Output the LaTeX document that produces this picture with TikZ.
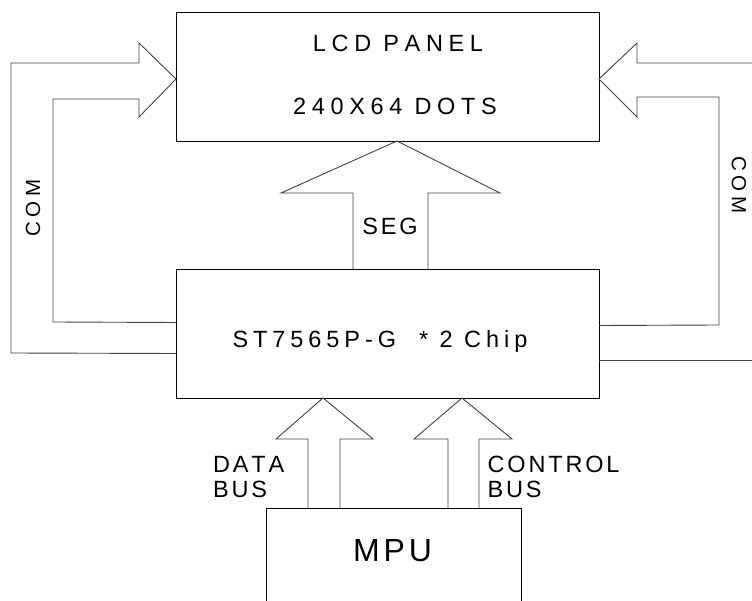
\documentclass[tikz,border=0pt]{standalone}
\usepackage{fontspec}
\setmainfont{Liberation Sans}[LetterSpace=12,Kerning=Off]
\newfontfamily\wideA{Liberation Sans}[LetterSpace=24,Kerning=Off]
\newfontfamily\wideB{Liberation Sans}[LetterSpace=21,Kerning=Off]
\newfontfamily\comfont{Liberation Sans}[LetterSpace=21,Kerning=Off]
\begin{document}
\begin{tikzpicture}[x=1pt,y=-1pt,
  box/.style={draw=black, line width=0.9pt, inner sep=0pt, outer sep=0pt, anchor=north west},
  bus/.style={draw=black!75, line width=0.9pt, line join=miter},
  txt/.style={inner sep=0pt, font=\fontsize{23.5}{28}\selectfont},
  widetxt/.style={inner sep=0pt, font=\wideA\fontsize{23.5}{28}\selectfont},
  chiptxt/.style={inner sep=0pt, font=\wideB\fontsize{23.5}{28}\selectfont},
  bigtxt/.style={inner sep=0pt, font=\fontsize{32}{38}\selectfont},
  comtxt/.style={inner sep=0pt, font=\comfont\fontsize{20.5}{24}\selectfont}]
\useasboundingbox (0,0) rectangle (752,601);
\clip (0,0) rectangle (752,601);
% boxes
\node[box, minimum width=423pt, minimum height=129pt] (lcd) at (176,12) {};
\node[box, minimum width=423pt, minimum height=129pt] (chip) at (176,269) {};
\node[inner sep=0pt, outer sep=0pt, minimum width=255pt, minimum height=110pt, anchor=north west] (mpu) at (266,508) {};
\draw[line width=0.9pt] (mpu.south west) -- (mpu.north west) -- (mpu.north east) -- (mpu.south east);
% texts
\node[widetxt, anchor=base] (t1) at (398,51.5) {LCD PANEL};
\node[widetxt, anchor=base] (t2) at (395,115) {240X64 DOTS};
\node[chiptxt, anchor=base] (t3) at (380,348) {ST7565P-G\ \ * 2 Chip};
\node[txt, anchor=base] (t4) at (390,235) {SEG};
\node[bigtxt, anchor=base] (t5) at (392.5,561) {MPU};
\node[txt, anchor=base west] (t6) at (213,472) {DATA};
\node[txt, anchor=base west] (t7) at (213,497) {BUS};
\node[txt, anchor=base west] (t8) at (487.5,472) {CONTROL};
\node[txt, anchor=base west] (t9) at (487.5,497) {BUS};
\node[comtxt, rotate=90] (c1) at (33,208) {COM};
\node[comtxt, rotate=-90] (c2) at (739,185) {COM};
% left COM arrow
\draw[bus] ([yshift=-20pt]chip.west) -- (11,353) -- (11,63) -- (139,63) -- (139,43)
  -- ([yshift=-2.5pt]lcd.west) -- (139,117) -- (139,99) -- (53,99) -- (53,322)
  -- ([yshift=11pt]chip.west);
% right COM arrow
\draw[bus] ([yshift=8pt]chip.east) -- (719,325) -- (719,97) -- (637,97) -- (637,117)
  -- ([yshift=-2.5pt]lcd.east) -- (637,43) -- (637,63) -- (752,63);
\draw[bus] ([yshift=-26.5pt]chip.east) -- (752,360);
% SEG arrow
\draw[bus] ([xshift=-34.5pt]chip.north) -- (353,193) -- (281,193)
  -- ([xshift=9.5pt]lcd.south) -- (500,193) -- (428,193) -- ([xshift=40.5pt]chip.north);
% DATA BUS arrow
\draw[bus] ([xshift=-85.5pt]mpu.north) -- (308,439) -- (276,439)
  -- ([xshift=-64.5pt]chip.south) -- (373,439) -- (340,439) -- ([xshift=-53.5pt]mpu.north);
% CONTROL BUS arrow
\draw[bus] ([xshift=54.5pt]mpu.north) -- (448,439) -- (414,439)
  -- ([xshift=74.5pt]chip.south) -- (512,439) -- (479,439) -- ([xshift=85.5pt]mpu.north);
\end{tikzpicture}
\end{document}
